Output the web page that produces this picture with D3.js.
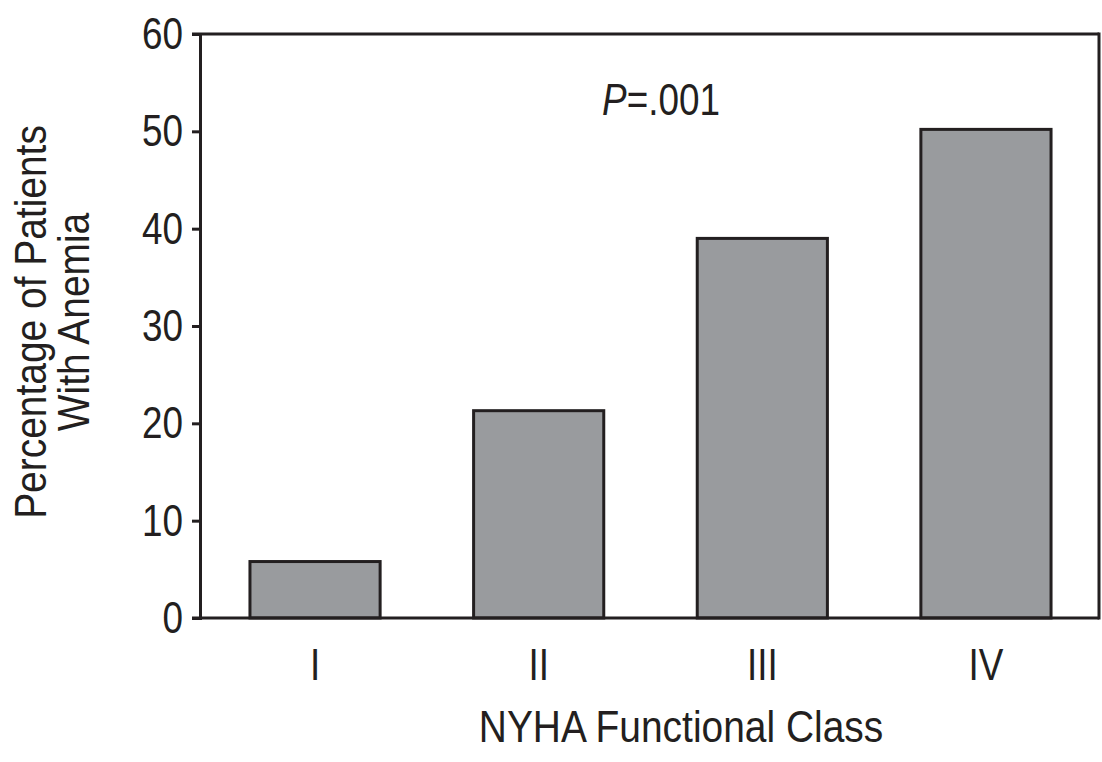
<!DOCTYPE html>
<html>
<head>
<meta charset="utf-8">
<script src="https://cdn.jsdelivr.net/npm/d3@7"></script>
<style>
  html, body { margin: 0; padding: 0; background: #fff; }
  svg { display: block; }
  text { font-family: "Liberation Sans", Arial, sans-serif; fill: #231f20; }
</style>
</head>
<body>
<svg id="chart" width="1102" height="762"></svg>
<script>
const categories = ["I", "II", "III", "IV"];
const values = [5.8, 21.3, 39.0, 50.2];
const yTicks = [0, 10, 20, 30, 40, 50, 60];
const yTitleLines = ["Percentage of Patients", "With Anemia"];
const xTitle = "NYHA Functional Class";
const annotation = { label: "P", rest: "=.001" };

(function () {
const svg = d3.select("#chart");
const pLeft = 200, pRight = 1099, pTop = 34, pBottom = 618;
const ink = "#231f20";
const fam = "'Liberation Sans', Arial, sans-serif";
const fs = 45;
const sxNum = 0.82, sxTitle = 0.865;

const x = d3.scaleBand().domain(categories).range([203, 1098]).paddingInner(0.418).paddingOuter(0.21);
const y = d3.scaleLinear().domain([0, 60]).range([pBottom, pTop]);

// bars
svg.append("g").selectAll("rect").data(values).join("rect")
  .attr("x", (d, i) => x(categories[i]))
  .attr("y", d => y(d))
  .attr("width", x.bandwidth())
  .attr("height", d => y(0) - y(d))
  .attr("fill", "#999b9e")
  .attr("stroke", ink)
  .attr("stroke-width", 3);

// y axis
const yAxis = d3.axisLeft(y).tickValues(yTicks).tickSize(8).tickPadding(9).tickFormat(d3.format("d"));
const gy = svg.append("g").attr("transform", `translate(${pLeft},0)`).call(yAxis);
gy.select(".domain").attr("stroke", ink).attr("stroke-width", 3);
gy.selectAll(".tick line").attr("stroke", ink).attr("stroke-width", 3);
gy.selectAll(".tick text")
  .attr("font-size", fs).attr("fill", ink).attr("font-family", fam)
  .attr("x", -17 / sxNum)
  .attr("transform", `scale(${sxNum},1)`);

// x axis
const xAxis = d3.axisBottom(x).tickSize(0).tickPadding(0);
const gx = svg.append("g").attr("transform", `translate(0,${pBottom})`).call(xAxis);
gx.select(".domain").remove();
gx.selectAll(".tick text")
  .attr("font-size", fs).attr("fill", ink).attr("font-family", fam)
  .attr("y", 62).attr("dy", 0)
  .attr("transform", `scale(${sxNum},1)`);

// frame lines: bottom, top, right
svg.append("line").attr("x1", pLeft - 8).attr("x2", pRight).attr("y1", y(0)).attr("y2", y(0))
  .attr("stroke", ink).attr("stroke-width", 3);
svg.append("line").attr("x1", pLeft - 8).attr("x2", pRight).attr("y1", y(60)).attr("y2", y(60))
  .attr("stroke", ink).attr("stroke-width", 3);
svg.append("line").attr("x1", pRight).attr("x2", pRight).attr("y1", y(60) - 1.5).attr("y2", y(0) + 1.5)
  .attr("stroke", ink).attr("stroke-width", 3);

// y title
const yt = svg.append("text")
  .attr("transform", `translate(46,${322}) rotate(-90) scale(${sxTitle},1)`)
  .attr("text-anchor", "middle")
  .attr("font-size", fs);
yt.selectAll("tspan").data(yTitleLines).join("tspan")
  .attr("x", 0)
  .attr("dy", (d, i) => i === 0 ? 0 : 43)
  .text(d => d);

// x title
svg.append("text")
  .attr("transform", `translate(681,742) scale(${sxTitle},1)`)
  .attr("text-anchor", "middle")
  .attr("font-size", fs)
  .text(xTitle);

// annotation
const ann = svg.append("text")
  .attr("transform", `translate(661,115) scale(${sxNum},1)`)
  .attr("text-anchor", "middle").attr("font-size", fs);
ann.append("tspan").attr("font-style", "italic").text(annotation.label);
ann.append("tspan").text(annotation.rest);
})();
</script>
</body>
</html>
